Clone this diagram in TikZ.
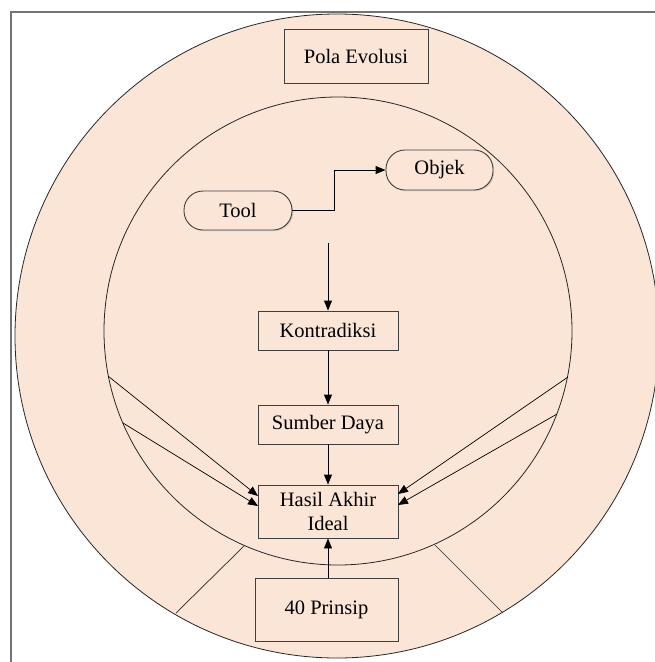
\documentclass[tikz,border=0pt]{standalone}
\usepackage{fontspec}
\setmainfont{Liberation Serif}
\usetikzlibrary{arrows.meta,shadows}
\definecolor{peach}{HTML}{FBE5D6}
\definecolor{edge}{HTML}{3F3F3F}
\tikzset{
  ring/.style={draw=black!85, line width=0.8pt, fill=peach},
  boxnode/.style={draw=edge, line width=0.9pt, fill=peach, inner sep=0pt, align=center,
    font=\fontsize{20.5}{24}\selectfont,
    drop shadow={opacity=0.25, shadow xshift=1.2pt, shadow yshift=-1.2pt}},
  pill/.style={boxnode, rounded corners=19pt},
  arr/.style={draw=black, line width=0.9pt, -{Triangle[length=10pt,width=8pt]}},
  thin/.style={draw=black!85, line width=0.7pt},
}
\begin{document}
\begin{tikzpicture}[x=1pt,y=-1pt]
\useasboundingbox (0,0) rectangle (655,662);
% frame
\draw[draw=black!55, line width=1.2pt] (11,662) -- (11,12) -- (660,12);
% circles
\draw[ring] (337,336) circle (322);
\draw[ring] (338,331) circle (234);
% radial separators
\draw[thin] (244,546) -- (176,613);
\draw[thin] (435,545) -- (503,613);
% nodes
\node[boxnode, minimum width=144pt, minimum height=54pt] (pola) at (356,56) {Pola Evolusi};
\node[pill, minimum width=108pt, minimum height=39pt] (tool) at (238,210.5) {Tool};
\node[pill, minimum width=107pt, minimum height=40pt] (objek) at (439.5,170) {Objek};
\node[boxnode, minimum width=140pt, minimum height=39pt] (kontra) at (328,330.5) {Kontradiksi};
\node[boxnode, minimum width=140pt, minimum height=39pt] (sumber) at (328,424.5) {Sumber Daya};
\node[boxnode, minimum width=140pt, minimum height=53pt] (hasil) at (328,511.5) {Hasil Akhir\\Ideal};
\node[boxnode, minimum width=143pt, minimum height=63pt] (prinsip) at (326.5,609.5) {40 Prinsip};
% connectors
\draw[arr] (tool.east) -- (334,210.5) |- (objek.west);
\coordinate (topstart) at (328,243);
\draw[arr] (topstart) -- (kontra.north);
\draw[arr] (kontra.south) -- (sumber.north);
\draw[arr] (sumber.south) -- (hasil.north);
\draw[arr] (prinsip.north -| 328,0) -- (hasil.south);
% diagonal inputs
\coordinate (l1) at (108,376);
\coordinate (l2) at (123,423);
\coordinate (r1) at (568,377);
\coordinate (r2) at (557,414);
\coordinate (hl1) at (258,496);
\coordinate (hl2) at (258,506);
\coordinate (hr1) at (398,494);
\coordinate (hr2) at (398,505);
\draw[arr, line width=0.7pt] (l1) -- (hl1);
\draw[arr, line width=0.7pt] (l2) -- (hl2);
\draw[arr, line width=0.7pt] (r1) -- (hr1);
\draw[arr, line width=0.7pt] (r2) -- (hr2);
\end{tikzpicture}
\end{document}
